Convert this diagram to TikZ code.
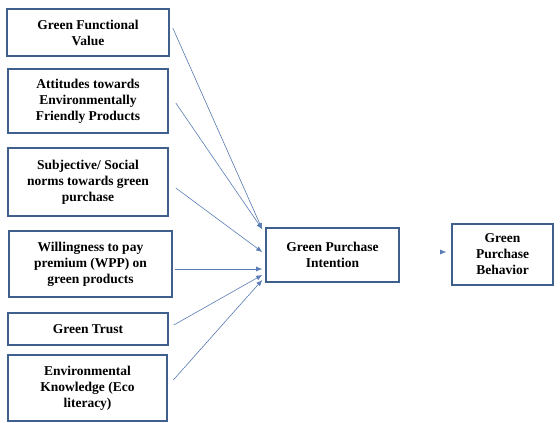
\documentclass[tikz,border=0pt]{standalone}
\usepackage{fontspec}
\setmainfont{Liberation Serif}
\usetikzlibrary{arrows.meta}
\definecolor{boxc}{HTML}{3F5F8C}
\definecolor{linec}{HTML}{5A7DB4}
\tikzset{
  fbox/.style={draw=boxc, line width=1.6pt, fill=white, align=center, inner sep=2pt,
    font=\bfseries\fontsize{13.5}{16}\selectfont},
  arr/.style={draw=linec, line width=0.6pt, -{Latex[length=6pt,width=5pt]}}
}
\begin{document}
\begin{tikzpicture}[x=1pt,y=1pt]
\useasboundingbox (0,0) rectangle (560,-423);
\fill[white] (0,0) rectangle (560,-423);
\node[fbox, minimum width=162pt, minimum height=47pt] (b1) at (88,-32.5) {Green Functional\\Value};
\node[fbox, minimum width=160pt, minimum height=64pt] (b2) at (88,-101) {Attitudes towards\\Environmentally\\Friendly Products};
\node[fbox, minimum width=160pt, minimum height=68pt] (b3) at (88,-182) {Subjective/ Social\\norms towards green\\purchase};
\node[fbox, minimum width=163pt, minimum height=66pt] (b4) at (90.5,-264) {Willingness to pay\\premium (WPP) on\\green products};
\node[fbox, minimum width=160pt, minimum height=32pt] (b5) at (88,-329) {Green Trust};
\node[fbox, minimum width=159pt, minimum height=66pt] (b6) at (87.5,-388) {Environmental\\Knowledge (Eco\\literacy)};
\node[fbox, minimum width=133pt, minimum height=54pt] (gpi) at (332.5,-255) {Green Purchase\\Intention};
\node[fbox, minimum width=101pt, minimum height=61pt] (gpb) at (502.5,-254.5) {Green\\Purchase\\Behavior};
\draw[arr] ([xshift=3pt,yshift=4.5pt]b1.east) -- ([xshift=-3pt,yshift=-2pt]gpi.north west);
\draw[arr] ([xshift=7pt,yshift=-2pt]b2.east) -- ([xshift=-3pt,yshift=-2pt]gpi.north west);
\draw[arr] ([xshift=7pt,yshift=-6pt]b3.east) -- ([xshift=-3pt,yshift=3pt]gpi.west);
\draw[arr] ([xshift=2.5pt,yshift=-5pt]b4.east) -- ([xshift=-3pt,yshift=-14pt]gpi.west);
\draw[arr] ([xshift=5pt,yshift=4pt]b5.east) -- ([xshift=-3pt,yshift=-20pt]gpi.west);
\draw[arr] ([xshift=5.5pt,yshift=8pt]b6.east) -- ([xshift=-3pt,yshift=-25pt]gpi.west);
\coordinate (g0) at (440,-252);
\draw[arr] (g0) -- ([xshift=-5pt,yshift=2.5pt]gpb.west);
\end{tikzpicture}
\end{document}
